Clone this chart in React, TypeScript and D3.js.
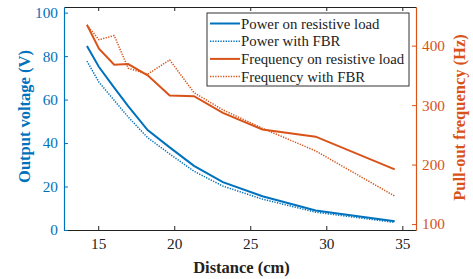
import { axisBottom, axisLeft, axisRight, axisTop, line, scaleLinear, select } from 'd3'
import { useEffect, useRef } from 'react'

const distance = [14.26, 15.05, 16.05, 16.97, 18.25, 19.7, 21.3, 23.2, 25.8, 29.3, 34.5]
const powerResistive = [84.6, 75, 65.5, 57, 46, 38, 29.5, 22, 15.5, 9, 4]
const powerFbr = [77.7, 68, 59.7, 52, 42.5, 35, 27, 20.2, 14.2, 8.2, 3.5]
const freqResistive = [435, 395, 368, 369, 350, 316, 315, 287, 259, 247, 192]
const freqFbr = [435, 410, 417, 362, 352, 376, 321, 292, 261, 223, 147]

const xTicks = [15, 20, 25, 30, 35]
const leftTicks = [0, 20, 40, 60, 80, 100]
const rightTicks = [100, 200, 300, 400]

const legendLabels = ['Power on resistive load', 'Power with FBR', 'Frequency on resistive load', 'Frequency with FBR']

const BLUE = '#0072BD'
const ORANGE = '#D95319'
const FONT = '"Liberation Serif", "Times New Roman", serif'

export default function App() {
  const ref = useRef<SVGSVGElement>(null)

  useEffect(() => {
    if (!ref.current) return
    const svg = select(ref.current)
    svg.selectAll('*').remove()

    const margin = { top: 7, right: 57, bottom: 49, left: 64 }
    const width = 473 - margin.left - margin.right
    const height = 279 - margin.top - margin.bottom

    const x = scaleLinear().domain([12.75, 35.9]).range([0, width])
    const yL = scaleLinear().domain([0, 102.6]).range([height, 0])
    const yR = scaleLinear().domain([90, 465]).range([height, 0])

    const g = svg.append('g').attr('transform', `translate(${margin.left}, ${margin.top})`)

    // series
    const series = [
      { values: powerResistive, scale: yL, color: BLUE, dotted: false },
      { values: powerFbr, scale: yL, color: BLUE, dotted: true },
      { values: freqResistive, scale: yR, color: ORANGE, dotted: false },
      { values: freqFbr, scale: yR, color: ORANGE, dotted: true },
    ]
    series.forEach((s) => {
      const gen = line<number>()
        .x((_, i) => x(distance[i]))
        .y((d) => s.scale(d))
      g.append('path')
        .attr('d', gen(s.values))
        .attr('fill', 'none')
        .attr('stroke', s.color)
        .attr('stroke-width', s.dotted ? 1.5 : 2)
        .attr('stroke-dasharray', s.dotted ? '1.3,1.3' : null)
    })

    const styleAxis = (sel: any, color: string, labels: boolean) => {
      sel.select('.domain').attr('stroke', color).attr('stroke-width', 1.2)
      sel.selectAll('.tick line').attr('stroke', color)
      sel
        .selectAll('.tick text')
        .attr('fill', color)
        .style('font-family', FONT)
        .style('font-size', '15.3px')
        .style('display', labels ? null : 'none')
    }

    // bottom / top
    const bottom = g
      .append('g')
      .attr('transform', `translate(0, ${height})`)
      .call(axisBottom(x).tickValues(xTicks).tickSize(-4).tickSizeOuter(0).tickPadding(8))
    styleAxis(bottom, '#222', true)
    const top = g.append('g').call(axisTop(x).tickValues(xTicks).tickSize(-4).tickSizeOuter(0))
    styleAxis(top, '#222', false)

    // left
    const left = g.append('g').call(axisLeft(yL).tickValues(leftTicks).tickSize(-4).tickSizeOuter(0).tickPadding(6))
    styleAxis(left, BLUE, true)

    // right
    const right = g
      .append('g')
      .attr('transform', `translate(${width}, 0)`)
      .call(axisRight(yR).tickValues(rightTicks).tickSize(-4).tickSizeOuter(0).tickPadding(6))
    styleAxis(right, ORANGE, true)

    // axis titles
    const title = (sel: any, color: string) =>
      sel
        .attr('text-anchor', 'middle')
        .style('font-family', FONT)
        .style('font-size', '16.5px')
        .style('font-weight', 'bold')
        .attr('fill', color)
    title(svg.append('text').attr('x', 241.5).attr('y', 273), '#222').text('Distance (cm)')
    title(svg.append('text').attr('transform', 'translate(30, 116.5) rotate(-90)'), BLUE).text('Output voltage (V)')
    title(svg.append('text').attr('transform', 'translate(465, 117.5) rotate(-90)'), ORANGE).text('Pull-out frequency (Hz)')

    // legend
    const legend = svg.append('g').attr('transform', 'translate(207, 13)')
    legend.append('rect').attr('width', 202).attr('height', 73).attr('fill', 'white').attr('stroke', '#333').attr('stroke-width', 1)
    legendLabels.forEach((label, i) => {
      const s = series[i]
      const yy = 10.5 + i * 17.7
      legend
        .append('line')
        .attr('x1', 3)
        .attr('x2', 33)
        .attr('y1', yy)
        .attr('y2', yy)
        .attr('stroke', s.color)
        .attr('stroke-width', s.dotted ? 1.5 : 2)
        .attr('stroke-dasharray', s.dotted ? '1.3,1.3' : null)
      legend
        .append('text')
        .attr('x', 34)
        .attr('y', yy + 5)
        .style('font-family', FONT)
        .style('font-size', '14.8px')
        .attr('fill', '#222')
        .text(label)
    })
  }, [])

  return <svg ref={ref} width={473} height={279} style={{ position: 'absolute', left: 0, top: 0, background: 'white' }} />
}
